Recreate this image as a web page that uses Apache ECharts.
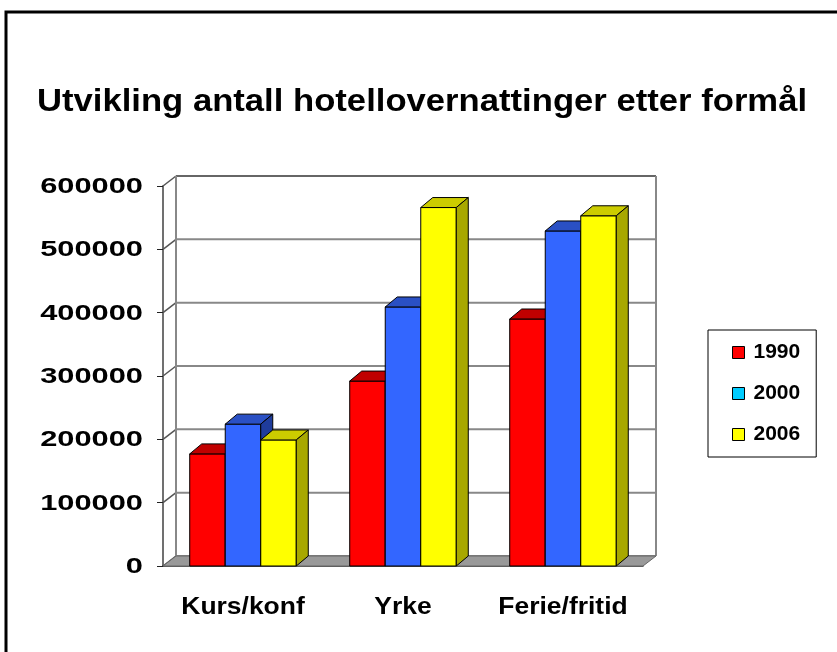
<!DOCTYPE html>
<html>
<head>
<meta charset="utf-8">
<script src="https://cdn.jsdelivr.net/npm/echarts@6/dist/echarts.min.js"></script>
<style>
  html, body { margin: 0; padding: 0; background: #fff; }
  #chart { width: 837px; height: 652px; }
</style>
</head>
<body>
<div id="chart"></div>
<script>
const categories = ['Kurs/konf', 'Yrke', 'Ferie/fritid']
const years = ['1990', '2000', '2006']
const values1990 = [177000, 292000, 390000]
const values2000 = [224000, 409000, 529000]
const values2006 = [199000, 566000, 553000]
const yTicks = [0, 100000, 200000, 300000, 400000, 500000, 600000]

// front / top / side colours per year; legend colour as in the original
const faces = [
  { front: '#ff0000', top: '#c00000', side: '#900000', legend: '#ff0000' },
  { front: '#3366ff', top: '#2a50c4', side: '#1f3c9c', legend: '#00ccff' },
  { front: '#ffff00', top: '#cccc00', side: '#a8a800', legend: '#ffff00' }
]
const WALL_DX = 13
const WALL_DY = -10
const BAR_DX = 12
const BAR_DY = -10
const FONT = '"Liberation Sans", Arial, sans-serif'

const dom = document.getElementById('chart')
const chart = echarts.init(dom, null, { renderer: 'canvas' })

function renderBar (params, api) {
  const i = params.seriesIndex - 3
  const f = faces[i]
  const top = api.coord([api.value(0), api.value(1)])
  const base = api.coord([api.value(0), 0])
  const band = api.size([1, 0])[0]
  const w = band * 0.222
  const x0 = top[0] + (i - 1) * w - w / 2
  const x1 = x0 + w
  const yt = top[1]
  const yb = base[1]
  const stroke = { stroke: '#000', lineWidth: 1 }
  return {
    type: 'group',
    children: [
      { type: 'rect', shape: { x: x0, y: yt, width: w, height: yb - yt }, style: Object.assign({ fill: f.front }, stroke) },
      { type: 'polygon', shape: { points: [[x0, yt], [x0 + BAR_DX, yt + BAR_DY], [x1 + BAR_DX, yt + BAR_DY], [x1, yt]] }, style: Object.assign({ fill: f.top }, stroke) },
      { type: 'polygon', shape: { points: [[x1, yt], [x1 + BAR_DX, yt + BAR_DY], [x1 + BAR_DX, yb + BAR_DY], [x1, yb]] }, style: Object.assign({ fill: f.side }, stroke) }
    ]
  }
}

function renderGridLine (params, api) {
  const cs = params.coordSys
  const y = api.coord([0, api.value(1)])[1]
  const L = cs.x
  const R = cs.x + cs.width
  const isTop = api.value(1) === yTicks[yTicks.length - 1]
  return {
    type: 'group',
    children: [
      { type: 'line', shape: { x1: L + WALL_DX, y1: y + WALL_DY, x2: R + WALL_DX, y2: y + WALL_DY }, style: { stroke: isTop ? '#333' : '#888', lineWidth: isTop ? 1.5 : 2 } },
      { type: 'line', shape: { x1: L, y1: y, x2: L + WALL_DX, y2: y + WALL_DY }, style: { stroke: '#555', lineWidth: 1.5 } }
    ]
  }
}

function renderWall (params, api) {
  const cs = params.coordSys
  const yTop = api.coord([0, yTicks[yTicks.length - 1]])[1]
  const y0 = api.coord([0, 0])[1]
  const L = cs.x
  const R = cs.x + cs.width
  return {
    type: 'group',
    children: [
      { type: 'line', shape: { x1: L + WALL_DX, y1: yTop + WALL_DY, x2: L + WALL_DX, y2: y0 + WALL_DY }, style: { stroke: '#888', lineWidth: 2 } },
      { type: 'line', shape: { x1: R + WALL_DX, y1: yTop + WALL_DY, x2: R + WALL_DX, y2: y0 + WALL_DY }, style: { stroke: '#888', lineWidth: 2 } },
      { type: 'polygon', shape: { points: [[L, y0], [R, y0], [R + WALL_DX, y0 + WALL_DY], [L + WALL_DX, y0 + WALL_DY]] }, style: { fill: '#999', stroke: '#666', lineWidth: 1 } }
    ]
  }
}

function renderYLabel (params, api) {
  const p = api.coord([0, api.value(1)])
  const cs = params.coordSys
  return {
    type: 'text',
    x: cs.x - 20,
    y: p[1] + 1,
    scaleX: 1.4,
    style: { text: String(api.value(1)), font: 'bold 22px ' + FONT, fill: '#000', align: 'right', verticalAlign: 'middle' }
  }
}

function renderXLabel (params, api) {
  const p = api.coord([api.value(0), 0])
  return {
    type: 'text',
    x: p[0],
    y: p[1] + 42,
    scaleX: 1.15,
    style: { text: categories[api.value(0)], font: 'bold 23px ' + FONT, fill: '#000', align: 'center', verticalAlign: 'middle' }
  }
}

const barSeries = [values1990, values2000, values2006].map((vals, i) => ({
  name: years[i],
  type: 'custom',
  renderItem: renderBar,
  itemStyle: { color: faces[i].legend },
  data: vals.map((v, c) => [c, v]),
  z: 5
}))

const option = {
  animation: false,
  backgroundColor: '#fff',
  graphic: [
    { type: 'rect', shape: { x: 6, y: 12, width: 900, height: 720 }, style: { fill: 'none', stroke: '#000', lineWidth: 3 }, z: 100 },
    {
      type: 'text',
      x: 422,
      y: 102,
      scaleX: 1.1,
      style: { text: 'Utvikling antall hotellovernattinger etter formål', font: 'bold 31.5px ' + FONT, fill: '#000', align: 'center', verticalAlign: 'middle' }
    }
  ],
  grid: { left: 163, right: 194, top: 186, bottom: 86 },
  legend: {
    data: years,
    orient: 'vertical',
    left: 708,
    top: 330,
    padding: [12, 16, 12, 24],
    itemGap: 20,
    itemWidth: 12,
    itemHeight: 12,
    icon: 'rect',
    borderColor: '#000',
    borderWidth: 1,
    itemStyle: { borderColor: '#000', borderWidth: 1 },
    textStyle: { fontFamily: FONT, fontWeight: 'bold', fontSize: 21, color: '#000', lineHeight: 20, padding: [0, 0, 0, 4] },
    selectedMode: false
  },
  xAxis: {
    type: 'category',
    data: categories,
    axisLine: { lineStyle: { color: '#222', width: 1.5 } },
    axisTick: { length: 7, lineStyle: { color: '#000' } },
    axisLabel: { show: false },
    splitLine: { show: false }
  },
  yAxis: {
    type: 'value',
    min: 0,
    max: 600000,
    interval: 100000,
    axisLine: { show: true, lineStyle: { color: '#707070', width: 2 } },
    axisTick: { show: true, length: 6, lineStyle: { color: '#222' } },
    axisLabel: { show: false },
    splitLine: { show: false }
  },
  series: [
    { type: 'custom', renderItem: renderGridLine, data: yTicks.map(v => [0, v]), silent: true, z: 1 },
    { type: 'custom', renderItem: renderWall, data: [[0, 0]], silent: true, z: 2 },
    { type: 'custom', renderItem: renderYLabel, data: yTicks.map(v => [0, v]), silent: true, z: 3 },
    ...barSeries,
    { type: 'custom', renderItem: renderXLabel, data: categories.map((c, i) => [i, 0]), silent: true, z: 3 }
  ]
}

chart.setOption(option)
window.addEventListener('resize', () => chart.resize())
</script>
</body>
</html>
